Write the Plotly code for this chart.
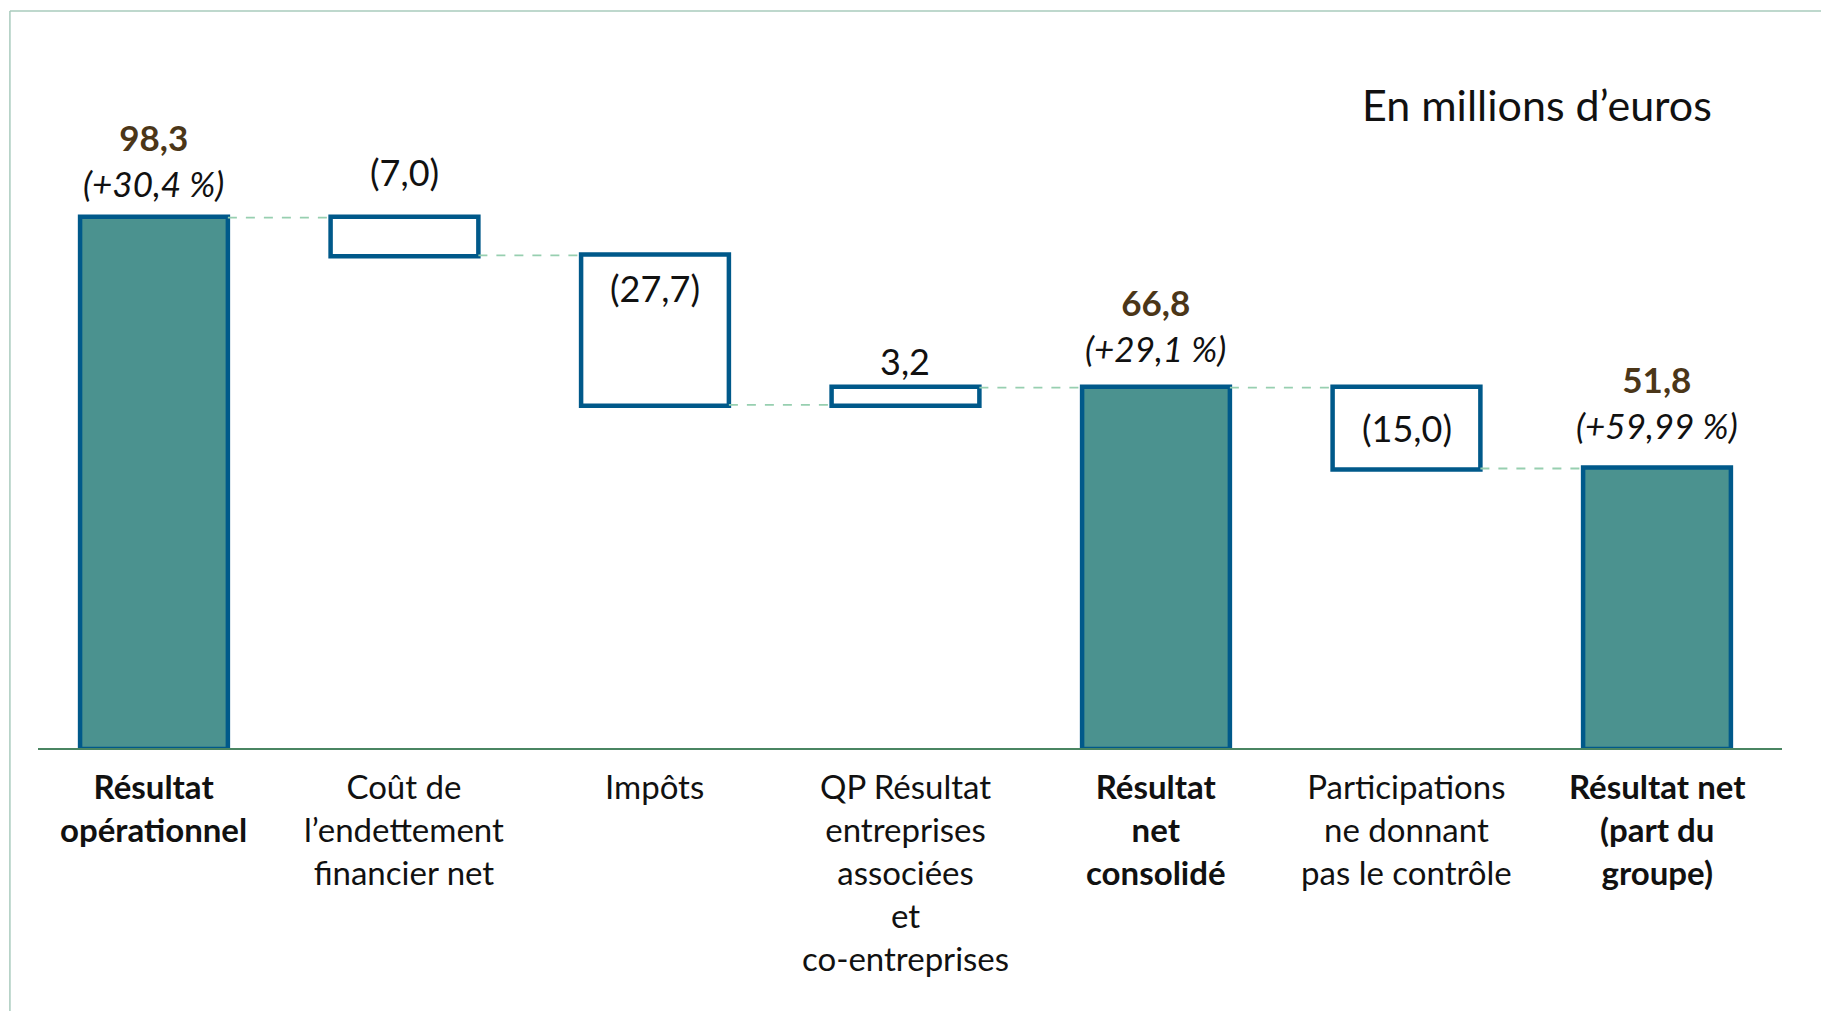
import plotly.graph_objects as go

# ---- data ----
categories = [
    "<b>Résultat<br>opérationnel</b>",
    "Coût de<br>l’endettement<br>financier net",
    "Impôts",
    "QP Résultat<br>entreprises<br>associées<br>et<br>co-entreprises",
    "<b>Résultat<br>net<br>consolidé</b>",
    "Participations<br>ne donnant<br>pas le contrôle",
    "<b>Résultat net<br>(part du<br>groupe)</b>",
]
measures = ["absolute", "relative", "relative", "relative", "total", "relative", "total"]
values = [98.3, -7.0, -27.7, 3.2, 66.8, -15.0, 51.8]
value_labels = ["98,3", "(7,0)", "(27,7)", "3,2", "66,8", "(15,0)", "51,8"]
pct_labels = ["(+30,4 %)", "", "", "", "(+29,1 %)", "", "(+59,99 %)"]
unit_label = "En millions d’euros"

# ---- styles ----
FONT = "Lato"
TEAL = "#4b928f"
OUTLINE = "#00598a"
BROWN = "#4b3618"
# label placement: 'above', 'inside_top', 'middle'
label_mode = ["above", "above", "inside_top", "above", "above", "middle", "above"]
label_shift = [12, 46, -33, 27, 17, 0, 20]

x = list(range(len(categories)))

fig = go.Figure()
fig.add_trace(go.Waterfall(
    x=x, y=values, measure=measures,
    width=0.59,
    textinfo="none",
    connector=dict(mode="between", line=dict(color="#97cfb0", width=1.8, dash="dash")),
    increasing=dict(marker=dict(color="white", line=dict(color=OUTLINE, width=4.5))),
    decreasing=dict(marker=dict(color="white", line=dict(color=OUTLINE, width=4.5))),
    totals=dict(marker=dict(color=TEAL, line=dict(color=OUTLINE, width=4.5))),
    hoverinfo="skip",
))

# cumulative levels for label placement
level = 0.0
annotations = []
for i, (m, v) in enumerate(zip(measures, values)):
    if m == "absolute":
        start, end = 0.0, v
    elif m == "total":
        start, end = 0.0, level
    else:
        start, end = level, level + v
    level = end
    top = max(start, end)
    bottom = min(start, end)
    if pct_labels[i]:
        txt = (f"<b><span style='color:{BROWN}'>{value_labels[i]}</span></b><br>"
               f"<i>{pct_labels[i]}</i>")
        annotations.append(dict(x=i, y=top, xref="x", yref="y", text=txt, showarrow=False,
                                yanchor="bottom", yshift=label_shift[i],
                                font=dict(family=FONT, size=35, color="#111111")))
    else:
        if label_mode[i] == "middle":
            yy = (top + bottom) / 2
        else:
            yy = top
        annotations.append(dict(x=i, y=yy, xref="x", yref="y", text=value_labels[i],
                                showarrow=False, yanchor="middle", yshift=label_shift[i],
                                font=dict(family=FONT, size=36, color="#111111")))

for i, c in enumerate(categories):
    annotations.append(dict(x=i, y=0, xref="x", yref="y", text=c, showarrow=False,
                            yanchor="top", yshift=-16, align="center",
                            font=dict(family=FONT, size=33, color="#111111")))

annotations.append(dict(x=0.8595, y=0.936, xref="paper", yref="paper", text=unit_label,
                        showarrow=False, xanchor="center", yanchor="middle",
                        font=dict(family=FONT, size=43, color="#111111")))

fig.update_layout(
    width=1829, height=1011,
    margin=dict(l=30, r=55, t=52, b=271),
    paper_bgcolor="white", plot_bgcolor="white",
    showlegend=False,
    annotations=annotations,
    xaxis=dict(range=[-0.463, 6.499], showticklabels=False, showgrid=False, zeroline=False,
               showline=True, linecolor="#4a8562", linewidth=2, ticks=""),
    yaxis=dict(range=[0, 127.5], showticklabels=False, showgrid=False, zeroline=False,
               showline=False),
    shapes=[
        dict(type="line", xref="paper", yref="paper", x0=-0.0161, x1=-0.0161, y0=1.0712, y1=-0.4,
             line=dict(color="#a9cbbd", width=1.5)),
        dict(type="line", xref="paper", yref="paper", x0=-0.0161, x1=1.03, y0=1.0712, y1=1.0712,
             line=dict(color="#a9cbbd", width=1.5)),
    ],
)

fig.write_html("out.html")
